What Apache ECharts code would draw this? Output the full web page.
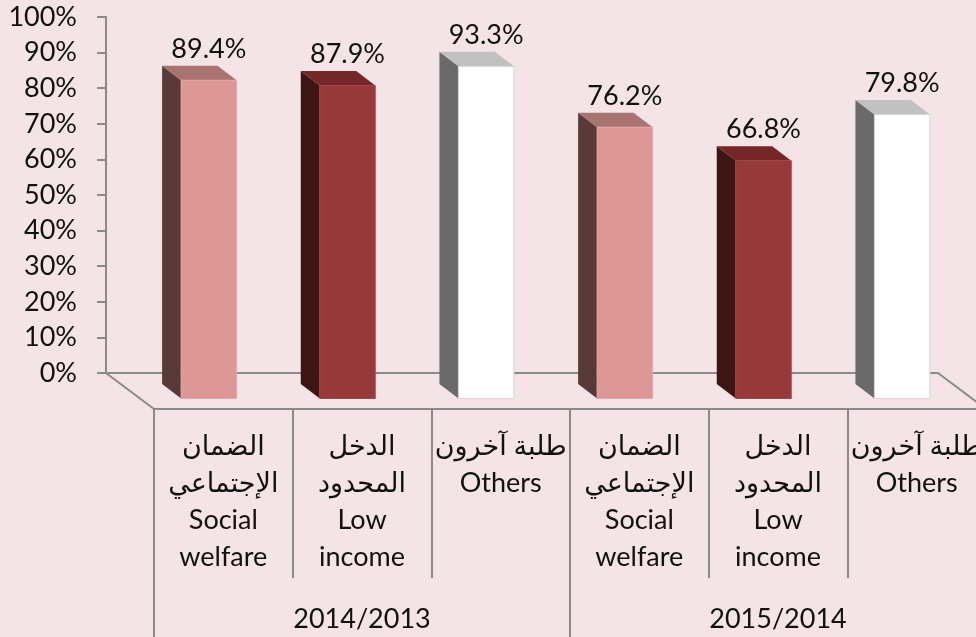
<!DOCTYPE html>
<html>
<head>
<meta charset="utf-8">
<script src="https://cdn.jsdelivr.net/npm/echarts@6/dist/echarts.min.js"></script>
<style>
  html, body { margin: 0; padding: 0; background: #F4E4E8; }
  #chart { width: 976px; height: 637px; }
</style>
</head>
<body>
<div id="chart"></div>
<script>
// ---- data ----
const categories = [
  'الضمان\nالإجتماعي\nSocial\nwelfare',
  'الدخل\nالمحدود\nLow\nincome',
  'طلبة آخرون\nOthers',
  'الضمان\nالإجتماعي\nSocial\nwelfare',
  'الدخل\nالمحدود\nLow\nincome',
  'طلبة آخرون\nOthers'
];
const groups = ['2014/2013', '2015/2014'];
const values = [89.4, 87.9, 93.3, 76.2, 66.8, 79.8];
const yTicks = [0, 100, 10]; // min, max, step

// ---- styling ----
const FONT = 'Lato, "DejaVu Sans", sans-serif';
const FONT_SIZE = 27;
const AXIS_GREY = '#8A8A8A';
const faceFront = ['#DD9896', '#973939', '#FFFFFF', '#DD9896', '#973939', '#FFFFFF'];
const faceSide  = ['#583B38', '#3C1614', '#6A6A6A', '#583B38', '#3C1614', '#6A6A6A'];
const faceTop   = ['#A87370', '#752626', '#C1C1C1', '#A87370', '#752626', '#C1C1C1'];
const faceEdge  = ['#E3A7A5', '#A04646', '#DCD2D5', '#E3A7A5', '#A04646', '#DCD2D5'];

// ---- layout (back wall, bar plane, floor front edge) ----
const WALL  = { left: 106, top: 17, width: 832, height: 356 };
const BARS  = { left: 139.5, top: 42.5, width: 832, height: 356 };
const FLOOR = { left: 154, top: 53, width: 832, height: 356 };
const DEPTH = [-19, -14.5];     // bar side/top depth offset
const BAR_FRAC = 0.4;

const chart = echarts.init(document.getElementById('chart'));

function renderBar(params, api) {
  const i = api.value(0);
  const v = api.value(1);
  const top = api.coord([i, v]);
  const base = api.coord([i, 0]);
  const w = api.size([1, 0])[0] * BAR_FRAC;
  const x0 = top[0] - w / 2, x1 = top[0] + w / 2;
  const y0 = top[1], y1 = base[1];
  const dx = DEPTH[0], dy = DEPTH[1];
  return {
    type: 'group',
    children: [
      { type: 'polygon',
        shape: { points: [[x0, y0], [x0 + dx, y0 + dy], [x0 + dx, y1 + dy], [x0, y1]] },
        style: { fill: faceSide[i] } },
      { type: 'polygon',
        shape: { points: [[x0, y0], [x0 + dx, y0 + dy], [x1 + dx, y0 + dy], [x1, y0]] },
        style: { fill: faceTop[i] } },
      { type: 'rect',
        shape: { x: x0, y: y0, width: w, height: y1 - y0 },
        style: { fill: faceFront[i], stroke: faceEdge[i], lineWidth: 1 } },
      { type: 'text',
        style: { text: v.toFixed(1) + '%', x: top[0], y: y0 + dy - 3,
                 align: 'center', verticalAlign: 'bottom',
                 font: FONT_SIZE + 'px ' + FONT, fill: '#111' } }
    ]
  };
}

function gridOf(box) {
  return Object.assign({ outerBoundsMode: 'none', containLabel: false }, box);
}

const option = {
  backgroundColor: '#F4E4E8',
  animation: false,
  grid: [gridOf(WALL), gridOf(BARS), gridOf(FLOOR)],
  xAxis: [
    { // back floor edge
      gridIndex: 0, type: 'category', data: categories,
      axisLine: { lineStyle: { color: AXIS_GREY, width: 2 } },
      axisTick: { show: false }, axisLabel: { show: false }
    },
    { // bar plane
      gridIndex: 1, type: 'category', data: categories, show: false
    },
    { // front floor edge with category labels
      gridIndex: 2, type: 'category', data: categories,
      axisLine: { lineStyle: { color: AXIS_GREY, width: 2 } },
      axisTick: { show: true, length: 169, lineStyle: { color: AXIS_GREY, width: 2 } },
      axisLabel: {
        interval: 0, margin: 19, color: '#111',
        fontFamily: FONT, fontSize: FONT_SIZE, lineHeight: 37, align: 'center'
      }
    },
    { // year groups
      gridIndex: 2, type: 'category', data: groups, position: 'bottom',
      axisLine: { show: false },
      axisTick: { show: true, length: 240, lineStyle: { color: AXIS_GREY, width: 2 } },
      axisLabel: {
        interval: 0, margin: 195, color: '#111',
        fontFamily: FONT, fontSize: FONT_SIZE, lineHeight: 30
      }
    }
  ],
  yAxis: [
    {
      gridIndex: 0, type: 'value', min: yTicks[0], max: yTicks[1], interval: yTicks[2],
      axisLine: { show: true, lineStyle: { color: AXIS_GREY, width: 2 } },
      axisTick: { show: true, length: 9, lineStyle: { color: AXIS_GREY, width: 2 } },
      splitLine: { show: false },
      axisLabel: { formatter: '{value}%', margin: 29, color: '#111',
                   fontFamily: FONT, fontSize: FONT_SIZE }
    },
    { gridIndex: 1, type: 'value', min: yTicks[0], max: yTicks[1], show: false },
    { gridIndex: 2, type: 'value', min: yTicks[0], max: yTicks[1], show: false }
  ],
  graphic: [
    { type: 'line', silent: true,
      shape: { x1: WALL.left, y1: WALL.top + WALL.height, x2: FLOOR.left, y2: FLOOR.top + FLOOR.height },
      style: { stroke: AXIS_GREY, lineWidth: 2 } },
    { type: 'line', silent: true,
      shape: { x1: WALL.left + WALL.width, y1: WALL.top + WALL.height,
               x2: FLOOR.left + FLOOR.width, y2: FLOOR.top + FLOOR.height },
      style: { stroke: AXIS_GREY, lineWidth: 2 } }
  ],
  series: [{
    type: 'custom',
    xAxisIndex: 1, yAxisIndex: 1,
    renderItem: renderBar,
    data: values.map((v, i) => [i, v]),
    clip: false
  }]
};

chart.setOption(option);
</script>
</body>
</html>
